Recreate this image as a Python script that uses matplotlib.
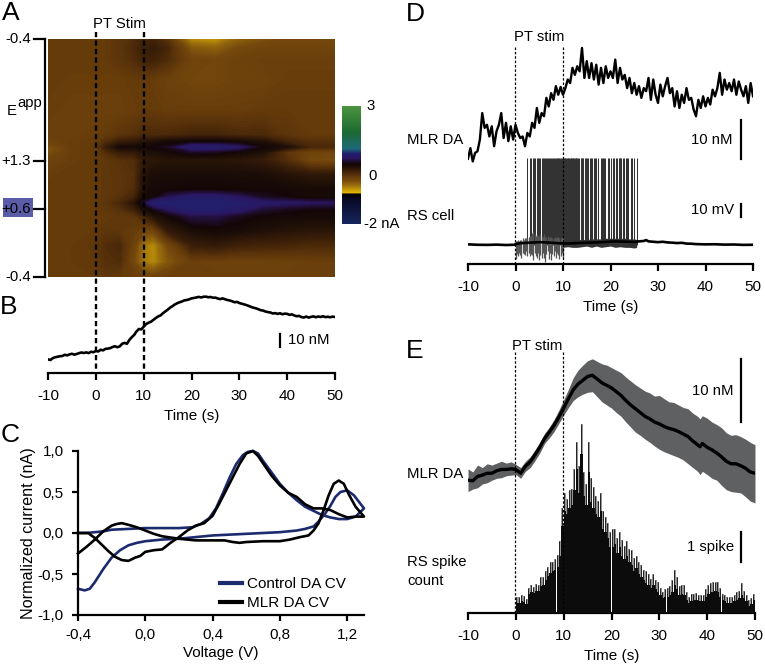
#!/usr/bin/env python3

import numpy as np
import matplotlib
matplotlib.use("Agg")
import matplotlib.pyplot as plt
from matplotlib.colors import LinearSegmentedColormap

plt.rcParams["font.family"] = ["Liberation Sans", "DejaVu Sans"]
plt.rcParams["font.size"] = 11
plt.rcParams["axes.unicode_minus"] = False

W, H = 765, 665
FS = 10.7

## Panel A: colour plot, nA. Rows are position in the scan (0 top, 100 bottom)
heatTimes = [-10, -5, 0, 2, 5, 8, 10, 12, 15, 20, 25, 30, 35, 40, 45, 50]
heatRows = [0, 3.8, 8.8, 17.2, 29.8, 40.3, 43.3, 45.4, 47.5, 50.8, 57.1, 63.4, 66.4,
            68.9, 71.4, 74.4, 80.3, 86.6, 93.7, 100]
heatValues = [
    [0, 0, 0, 0, .05, .12, .2, .2, .05, -.5, -.55, -.3, -.2, -.15, -.15, -.15],
    [0, 0, 0, 0, .05, .15, .25, .28, .18, -.25, -.3, -.15, -.1, -.1, -.1, -.1],
    [0, 0, 0, 0, .05, .12, .2, .22, .12, -.1, -.12, -.08, -.05, -.05, -.05, -.05],
    [0, -.03, -.03, -.03, -.03, 0, 0, -.03, -.07, -.12, -.12, -.08, -.08, -.03, -.03, -.03],
    [-.03, -.05, -.05, -.05, -.05, -.03, 0, 0, -.03, -.03, -.03, -.03, 0, 0, 0, 0],
    [-.05, -.05, -.03, 0, .05, .1, .15, .15, .15, .2, .2, .15, .15, .05, 0, 0],
    [-.1, -.03, 0, .12, .28, .3, .38, .42, .5, .55, .55, .5, .42, .2, .1, .1],
    [-.2, -.03, 0, .25, .48, .5, .52, .55, .6, .95, .95, .82, .52, .42, .15, .15],
    [-.2, -.03, 0, .12, .28, .3, .38, .42, .5, .62, .6, .5, .42, .05, -.1, -.12],
    [-.1, -.03, 0, .03, .08, .12, .3, .34, .36, .36, .36, .34, .28, .1, -.15, -.18],
    [-.03, 0, 0, .03, .05, .1, .38, .45, .46, .46, .46, .46, .45, .38, .33, .33],
    [0, 0, 0, .03, .05, .12, .42, .5, .52, .54, .54, .52, .52, .5, .48, .48],
    [0, 0, 0, .03, .08, .2, .48, .52, .74, .9, .9, .78, .62, .55, .48, .48],
    [0, 0, 0, .05, .15, .35, .65, .98, 1.0, 1.0, 1.0, .95, .85, .82, .78, .78],
    [0, 0, 0, .03, .1, .25, .45, .6, .8, 1.0, 1.0, .88, .68, .6, .55, .55],
    [0, 0, 0, 0, .03, .05, .22, .38, .5, .72, .72, .6, .52, .5, .5, .5],
    [0, 0, 0, .05, .03, -.02, -.1, -.1, .3, .45, .5, .47, .42, .38, .35, .35],
    [0, 0, .03, .12, .15, -.1, -.4, -.5, -.15, .25, .3, .22, .2, .18, .15, .15],
    [0, 0, .02, .1, .12, -.15, -.4, -.48, -.25, -.05, -.08, -.08, -.08, -.08, -.05, -.05],
    [0, 0, 0, .03, 0, -.03, -.08, -.08, -.05, -.05, -.05, -.05, -.05, -.05, -.05, -.05],
]

## Panel B: DA trace, nM, one value per half second from -10 s
traceB = [10.9, 10.4, 11.9, 12.6, 13.0, 13.4, 13.6, 14.6, 14.1, 14.9, 15.4, 14.7, 15.2, 15.9, 16.4, 16.0, 16.5,
          15.9, 17.0, 16.6, 17.6, 17.2, 18.6, 18.1, 19.3, 19.5, 19.9, 20.8, 21.4, 20.6, 21.3, 23.4, 24.1, 23.4, 26.4,
          28.6, 30.4, 33.2, 35.2, 34.9, 37.0, 39.1, 40.2, 41.0, 42.4, 43.9, 45.2, 46.0, 47.7, 49.2, 50.6, 52.2,
          53.4, 54.8, 55.8, 56.6, 57.2, 58.1, 58.4, 58.9, 59.7, 60.0, 60.4, 60.9, 60.4, 61.0, 61.1, 60.6, 60.8, 60.2,
          60.3, 59.6, 59.1, 59.7, 59.0, 58.4, 58.0, 57.4, 56.6, 56.9, 56.0, 55.4, 54.9, 54.3, 53.6, 52.8, 52.2, 51.7,
          51.0, 50.2, 49.9, 49.1, 48.7, 48.4, 47.6, 47.9, 47.3, 47.8, 47.0, 47.5, 47.3, 46.5, 46.9, 46.0, 45.4, 45.7,
          44.7, 44.4, 45.2, 44.3, 44.9, 45.3, 44.6, 45.2, 44.8, 45.4, 44.7, 45.0, 44.6, 45.1, 44.8]

## Panel C: cyclic voltammograms
controlV = [-.4, -.35, -.3, -.25, -.2, -.1, 0, .1, .2, .28, .33, .38, .42, .46, .5, .54, .58, .61,
            .64, .67, .7, .75, .8, .85, .9, .95, 1.0, 1.05, 1.1, 1.15, 1.2, 1.25, 1.3,
            1.27, 1.24, 1.2, 1.16, 1.13, 1.1, 1.07, 1.03, 1.0, .95, .9, .8, .6, .4, .2, .1, 0,
            -.05, -.1, -.15, -.2, -.25, -.3, -.33, -.36, -.4]
controlI = [0, 0, .01, .02, .04, .05, .06, .06, .06, .07, .11, .18, .3, .48, .67, .84, .95, .99,
            1.0, .97, .88, .74, .6, .49, .4, .32, .27, .22, .19, .17, .17, .2, .3,
            .38, .46, .52, .5, .44, .33, .24, .14, .08, .05, .03, .01, -.01, -.03, -.07, -.08,
            -.1, -.12, -.15, -.21, -.3, -.44, -.6, -.68, -.7, -.68]
mlrV = [-.4, -.35, -.3, -.25, -.2, -.17, -.14, -.1, -.05, 0, .05, .1, .2, .3, .4, .47, .52, .56, .6,
        .7, .8, .86, .92, .97, 1.0, 1.03, 1.06, 1.09, 1.12, 1.15, 1.18, 1.21, 1.25, 1.3,
        1.25, 1.2, 1.15, 1.1, 1.05, 1.0, .95, .9, .85, .8, .75, .7, .67, .64, .6, .56, .52, .48, .44,
        .4, .35, .3, .25, .2, .15, .1, .05, 0, -.03, -.06, -.1, -.14, -.18, -.22, -.26, -.3, -.34, -.4]
mlrI = [-.25, -.17, -.08, .02, .09, .11, .12, .1, .07, .03, -.01, -.04, -.07, -.09, -.09, -.09,
        -.11, -.12, -.11, -.1, -.1, -.08, -.05, -.03, .03, .12, .28, .46, .6, .64, .6, .47, .32, .2,
        .2, .19, .23, .28, .3, .3, .35, .44, .49, .58, .7, .85, .94, 1.0, .97, .84, .68, .52, .36,
        .21, .12, .09, .03, -.05, -.12, -.2, -.21, -.23, -.28, -.3, -.34, -.33, -.29, -.22, -.14, -.06, 0, 0]

## Panel D: DA trace, nM, one value per half second from -10 s
traceD = [27, 29.7, 26.3, 28.5, 28.9, 31.9, 38.7, 34.9, 35.7, 32.7, 35.3, 30.2, 34, 35.7, 38.7,
          32.3, 36.2, 31.5, 35.3, 31.9, 35.7, 33.6, 32.3, 32.7, 30.2, 33.6, 32.7, 36.2, 34.9,
          40, 36.2, 38.7, 37.9, 42.6, 40.4, 43.8, 42.1, 45.6, 43.4, 45.4, 43.4, 45.1, 47.3,
          46.4, 50.3, 48.5, 50.7, 49.4, 55.4, 47.7, 52, 47.7, 51.5, 47.3, 51.1, 46, 50.3, 46.4,
          50.7, 47.7, 49.4, 47.7, 52.4, 46.4, 50.3, 47.3, 48.5, 45.1, 47.7, 43.8, 46.4, 43.4,
          45.6, 42.6, 45.1, 44.3, 47.7, 42.1, 47.3, 43.4, 41.3, 46, 43, 45.6, 47.7, 43.8, 45.1,
          40.4, 44.3, 40, 43.4, 41.3, 45.1, 42.1, 42.6, 39.6, 37.9, 42.1, 40, 43, 40.4, 42.6,
          40.9, 44.7, 43, 45.1, 49, 43.4, 47.3, 44.7, 46.4, 44.3, 47.3, 43.4, 46.8, 44.7, 43,
          45.6, 41.3, 46.4, 43]

## Panel D: RS cell, mV relative to rest
spikeTimes = [2.5, 3.0, 3.2, 3.6, 3.9, 4.1, 4.5, 4.8, 5.0, 5.2, 5.5, 5.7, 6.0, 6.2, 6.4, 6.6, 6.9, 7.1, 7.3, 7.5, 7.7,
              7.9, 8.1, 8.3, 8.5, 8.7, 8.9, 9.0, 9.2, 9.4, 9.6, 9.8, 9.9, 10.1, 10.2, 10.4, 10.5, 10.7, 10.8, 11.0,
              11.1, 11.3, 11.4, 11.6, 11.7, 11.9, 12.0, 12.2, 12.3, 12.5, 12.7, 12.8, 13.0, 13.2, 13.4, 13.7, 13.9,
              14.1, 14.3, 14.6, 14.8, 15.1, 15.3, 15.6, 15.9, 16.1, 16.5, 16.8, 17.0, 17.4, 17.9, 18.2, 18.4, 18.7,
              18.9, 19.4, 19.7, 20.2, 20.5, 20.8, 21.2, 21.4, 21.7, 21.9, 22.1, 22.3, 22.6, 22.9, 23.2, 23.4, 23.7,
              24.3, 24.5, 24.9, 25.5]
spikePeak = 67
noiseTimes = [0, .25, .5, .75, 1, 1.25, 1.5, 1.75, 2, 2.25, 2.5, 2.75, 3, 3.25, 3.5, 3.75, 4, 4.25, 4.5, 4.75, 5, 5.25,
              5.5, 5.75, 6, 6.25, 6.5, 6.75, 7, 7.25, 7.5, 7.75, 8, 8.25, 8.5, 8.75, 9, 9.25, 9.5, 9.75, 10]
noiseHigh = [3, 3, 4, 3, 4, 4, 5, 4, 5, 5, 5, 6, 7, 7, 9, 10, 8, 7, 8, 7, 7, 8, 7, 6, 8, 6, 6, 7, 5, 6, 6, 5, 5, 6, 5, 6, 6, 5, 5, 6, 5]
noiseLow = [-11, -7, -9, -6, -8, -10, -6, -7, -8, -5, -9, -6, -9, -7, -8, -12, -6, -9, -10, -6, -12, -8, -10, -6, -10, -13,
            -7, -5, -11, -6, -12, -7, -9, -5, -10, -6, -8, -11, -9, -6, -10]
coreTimes = [-10, -8, -6, -4, -2, -.2, 0, 1, 3, 5, 7, 9, 11, 13, 15, 17, 19, 21, 23, 25, 26, 27, 27.5, 28, 29, 30, 31, 32,
             33, 34, 35, 36, 37, 38, 40, 42, 44, 46, 48, 50]
coreValues = [.3, 0, -.1, .1, -.2, 0, .5, 1.2, 1.6, 2, 1.7, 1.2, 1, 1.3, 1.6, 1.8, 2.2, 2.6, 2.4, 2.2, 2.6, 2.9, 3.6, 2.6, 2.3,
              2.0, 2.3, 1.8, 1.6, 1.3, 1.5, .9, .8, .5, .3, .4, .1, .2, -.1, 0]
burstTimes = [10, 11, 12, 13, 14, 15, 16, 17, 18, 19, 20, 21, 22, 23, 24, 25, 25.5]
burstHigh = [4, 4, 4, 4, 4, 4, 4.5, 4.5, 4.5, 5, 5, 5, 5, 5, 4.5, 4.5, 4]
burstLow = [-2, -1.5, -2, -2, -1.5, -1, -2, -1, -2, -1.5, -1, -2, -1.5, -2, -2, -2.5, -2]

## Panel E: mean DA and band, nM
meanTimes = [-10, -9, -8, -7, -6, -5, -4, -3, -2, -1, 0, 1, 2, 3, 4, 5, 6, 7, 8, 9, 10, 11, 12, 13, 14, 15, 16, 17, 18,
             19, 20, 21, 22, 23, 24, 25, 26, 27, 28, 29, 30, 31, 32, 33, 34, 35, 36, 37, 38, 38.5, 39, 40, 41, 42,
             43, 44, 45, 46, 47, 48, 49, 50]
meanDA = [21, 20.9, 21.6, 21.8, 22.1, 22.1, 22.5, 22.7, 22.7, 22.8, 22.7, 22.1, 23.2, 23.9, 25, 26.2, 27.6, 28.6, 29.7,
          31, 32.4, 33.9, 35.3, 36.2, 36.8, 37.4, 37.6, 37, 36.4, 36, 35.6, 35, 34.4, 33.6, 32.9, 32.3, 31.7, 31.1,
          30.7, 30.2, 29.9, 29.5, 29.2, 29.0, 28.7, 28.3, 27.9, 27.2, 26.6, 26.3, 26.8, 26.2, 25.8, 25.3, 24.7, 24.0,
          23.6, 23.6, 23.3, 22.9, 22.3, 22.1]
bandHigh = [22.8, 22.3, 23.4, 23.0, 23.6, 23.4, 23.7, 24.0, 23.7, 23.9, 23.5, 23, 24, 24.7, 25.8, 27, 28.4, 29.4, 30.6,
            32.1, 33.7, 35.4, 37.2, 38.4, 39.2, 39.9, 40.2, 39.8, 39.4, 39.2, 38.8, 38.4, 38.0, 37.3, 36.7, 36.1, 35.6, 35.1,
            34.8, 34.3, 34.4, 33.9, 33.4, 33.3, 32.9, 32.5, 32.3, 31.6, 31.1, 30.7, 31.2, 30.8, 30.2, 29.8, 29.3, 28.5,
            28.1, 28.2, 27.9, 27.5, 27.0, 26.6]
bandLow = [19.2, 19.6, 19.8, 20.4, 20.6, 21, 21.3, 21.4, 21.7, 21.8, 21.9, 21.3, 22.4, 23, 24.1, 25.3, 26.8, 27.7, 28.7,
           30, 31.3, 32.5, 33.6, 34.2, 34.6, 34.9, 35, 34.2, 33.4, 32.9, 32.4, 31.7, 31.1, 30.2, 29.4, 28.6, 28.1, 27.5,
           27.0, 26.4, 25.9, 25.5, 25.2, 24.9, 24.6, 24.2, 23.6, 23.0, 22.4, 21.9, 22.4, 21.9, 21.3, 21, 20.2, 19.5, 19.2,
           19.1, 19.0, 18.4, 17.7, 17.4]

## Panel E: spike count, 0.5 s bins from 0 s
spikeCount = [.33, .35, .4, .38, .3, .65, .7, .68, .72, .75, .9, .95, 1.1, 1.25, 1.35, 1.4, 1.45, 1.55, 1.9, 2.9,
              3.4, 3.3, 3.5, 3.6, 4.1, 4.8, 4.0, 5.3, 3.9, 3.6, 4.7, 3.7, 3.5, 3.3, 3.2, 3.4, 2.8, 2.7, 2.5, 2.2,
              2.2, 2.3, 2.0, 2.2, 1.9, 1.8, 1.9, 1.7, 1.6, 1.4, 1.5, 1.3, 1.2, 1.1, 1.0, .95, .85, .95, .8, .7,
              .6, .5, .55, .55, .6, .7, .95, .8, .6, .65, .6, .45, .35, .4, .45, .42, .4, .4, .4, .55,
              .65, .7, .7, .75, .7, .55, .45, .4, .35, .35, .35, .4, .45, .5, .6, .5, .4, .25, .3, .45]
spikeErr = [.2, .2, .2, .2, .18, .2, .25, .2, .25, .2, .3, .25, .3, .3, .35, .3, .35, .4, .5, .6,
            .6, .5, .6, .55, .7, .9, .9, 1.0, .8, .7, 1.0, .8, .7, .6, .55, .6, .6, .5, .5, .5,
            .6, .5, .5, .5, .55, .45, .5, .45, .5, .45, .4, .4, .4, .35, .4, .35, .3, .35, .3, .35,
            .25, .2, .25, .3, .3, .4, .5, .4, .3, .3, .35, .25, .2, .25, .2, .25, .2, .2, .2, .25,
            .3, .3, .35, .3, .35, .3, .2, .2, .2, .2, .2, .2, .25, .25, .4, .25, .2, .2, .2, .2]


def axes_px(x0, x1, ytop, ybot):
    return fig.add_axes([x0/W, 1-ybot/H, (x1-x0)/W, (ybot-ytop)/H])


def time_axis(ax):
    ax.set_xlim(-10, 50)
    ax.set_xticks([-10, 0, 10, 20, 30, 40, 50])
    for side in ["top", "right", "left"]:
        ax.spines[side].set_visible(False)
    ax.spines["bottom"].set_linewidth(1.6)
    ax.tick_params(axis="x", width=1.6, length=4.7, labelsize=11, pad=7)
    ax.set_yticks([])
    ax.patch.set_alpha(0)


fig = plt.figure(figsize=(W/100, H/100), dpi=100, facecolor="white")

# full figure overlay in pixel coordinates, for labels and scale bars
over = fig.add_axes([0, 0, 1, 1], zorder=10)
over.set_xlim(0, W)
over.set_ylim(H, 0)
over.axis("off")

## Panel A
colors = [(0, "#16275f"), (.2, "#0a0a28"), (.255, "#050505"), (.26, "#e8bc00"), (.33, "#966a0c"),
          (.37, "#74480c"), (.4, "#643a0a"), (.45, "#3a1e08"), (.49, "#1a0c06"), (.51, "#140608"), (.56, "#2a1660"),
          (.6, "#221f6c"), (.64, "#1d6a78"), (.78, "#1c6a30"), (1, "#4c9440")]
cmap = LinearSegmentedColormap.from_list("fscv", colors, N=512)
axA = axes_px(48, 335, 39, 277)
axA.contourf(heatTimes, heatRows, np.array(heatValues), levels=np.linspace(-2, 3, 256),
             cmap=cmap, vmin=-2, vmax=3)
axA.set_xlim(-10, 50)
axA.set_ylim(100, 0)
axA.axis("off")

axBar = axes_px(342, 361, 106, 224)
axBar.imshow(np.linspace(3, -2, 256).reshape(-1, 1), aspect="auto", cmap=cmap, vmin=-2, vmax=3)
axBar.axis("off")
over.text(366, 106, "3", va="center", fontsize=FS)
over.text(368, 176, "0", va="center", fontsize=FS)
over.text(364, 224, "-2 nA", va="center", fontsize=FS)

# potential bracket
over.plot([45, 45], [39, 277], c="black", lw=1.6)
for y, lab in zip([39, 161, 209, 277], ["-0.4", "+1.3", "+0.6", "-0.4"]):
    over.plot([34, 45], [y, y], c="black", lw=1.6)
    over.text(31, y, lab, ha="right", va="center", fontsize=FS)
over.fill_between([3, 33], 198, 217, color="#5b5ca8", lw=0, zorder=0)
over.text(7, 111, "E", va="center", fontsize=FS)
over.text(17, 103, "app", va="center", fontsize=FS)

for x in [96, 144]:
    over.plot([x, x], [32, 373], c="black", lw=1.7, ls=(0, (2.2, 1.4)))
over.text(119, 24, "PT Stim", ha="center", va="center", fontsize=FS)

## Panel B
axB = axes_px(48, 335, 290, 373)
axB.plot(np.arange(-10, 50.5, .5), traceB, c="black", lw=1.9)
axB.set_ylim(0, 66.4)
time_axis(axB)
axB.set_xlabel("Time (s)", fontsize=11, labelpad=4)
over.plot([280, 280], [334, 347], c="black", lw=1.6)
over.text(288, 340, "10 nM", va="center", fontsize=FS)

## Panel C
axC = axes_px(78, 364, 451, 615)
axC.plot(controlV, controlI, c="#1c2a6e", lw=1.9, label="Control DA CV", solid_joinstyle="round", clip_on=False)
axC.plot(mlrV, mlrI, c="black", lw=1.9, label="MLR DA CV", solid_joinstyle="round", clip_on=False)
axC.set_xlim(-.4, 1.3)
axC.set_ylim(-1, 1)
axC.set_xticks([-.4, 0, .4, .8, 1.2])
axC.set_xticklabels(["-0,4", "0,0", "0,4", "0,8", "1,2"])
axC.set_yticks([-1, -.5, 0, .5, 1])
axC.set_yticklabels(["-1,0", "-0,5", "0,0", "0,5", "1,0"])
for side in ["top", "right"]:
    axC.spines[side].set_visible(False)
for side in ["left", "bottom"]:
    axC.spines[side].set_linewidth(1.6)
axC.tick_params(width=1.6, length=4.2, labelsize=11)
axC.tick_params(axis="x", pad=5)
axC.tick_params(axis="y", pad=6)
axC.set_xlabel("Voltage (V)", fontsize=11, labelpad=3)
axC.set_ylabel("Normalized current (nA)", fontsize=11.6, labelpad=1)
axC.patch.set_alpha(0)
leg = axC.legend(loc="lower right", bbox_to_anchor=(.937, .03), frameon=False, fontsize=11, handlelength=1.4,
                 handletextpad=.35, labelspacing=.3, borderpad=0, borderaxespad=0)
for line in leg.get_lines():
    line.set_linewidth(3)

## Panel D
axD = axes_px(468, 753, 30, 264)
axD.plot(np.arange(-10, 50.5, .5), traceD, c="black", lw=1.7)
axD.set_ylim(0, 60)
time_axis(axD)
axD.set_xlabel("Time (s)", fontsize=11, labelpad=4)
axD2 = axD.twinx()
axD2.set_ylim(-14.8, 165.2)
axD2.axis("off")
axD2.vlines(spikeTimes, 0, spikePeak, color="#333333", lw=.75)
axD2.vlines(noiseTimes, noiseLow, noiseHigh, color="#555555", lw=.9)
axD2.fill_between(burstTimes, burstLow, burstHigh, color="#333333", lw=0)
axD2.plot(coreTimes, coreValues, c="black", lw=1.9)
over.text(407, 140, "MLR DA", va="center", fontsize=FS)
over.text(407, 216, "RS cell", va="center", fontsize=FS)
over.text(733, 140, "10 nM", ha="right", va="center", fontsize=FS)
over.plot([741, 741], [120, 159], c="black", lw=1.6)
over.text(734, 210, "10 mV", ha="right", va="center", fontsize=FS)
over.plot([741, 741], [204, 217], c="black", lw=1.6)
for x in [515, 563]:
    over.plot([x, x], [47, 264], c="black", lw=.9, ls=(0, (2, 1.5)))
over.text(539, 37, "PT stim", ha="center", va="center", fontsize=FS)

## Panel E
axE = axes_px(468, 755, 355, 613)
axE.fill_between(meanTimes, bandLow, bandHigh, color="#5f6062", lw=0)
axE.plot(meanTimes, meanDA, c="black", lw=2.4)
axE.set_ylim(0, 40.8)
time_axis(axE)
axE.set_xlabel("Time (s)", fontsize=11, labelpad=4)
axE2 = axE.twinx()
axE2.set_ylim(0, 8.6)
axE2.axis("off")
binStart = np.arange(0, 50, .5)
errTop = np.array(spikeCount)+np.array(spikeErr)
axE2.vlines(binStart+.25, spikeCount, errTop, color="#8a8a8a", lw=1.3)
axE2.vlines(binStart+.12, spikeCount, errTop, color="#111111", lw=.6)
axE2.bar(binStart+.25, spikeCount, width=.49, color="#0c0c0c")
over.text(407, 474, "MLR DA", va="center", fontsize=FS)
over.text(407, 562, "RS spike", va="center", fontsize=FS)
over.text(407, 581, "count", va="center", fontsize=FS)
over.text(734, 391, "10 nM", ha="right", va="center", fontsize=FS)
over.plot([741, 741], [359, 422], c="black", lw=1.6)
over.text(734, 547, "1 spike", ha="right", va="center", fontsize=FS)
over.plot([741, 741], [532, 562], c="black", lw=1.6)
for x in [515, 563]:
    over.plot([x, x], [352, 613], c="black", lw=.9, ls=(0, (2, 1.5)))
over.text(537, 346, "PT stim", ha="center", va="center", fontsize=FS)

## Panel letters
for x, y, lab in [(2, 13, "A"), (0, 307, "B"), (1, 435, "C"), (406, 14, "D"), (406, 351, "E")]:
    over.text(x, y, lab, va="center", fontsize=19)

plt.savefig("out.png", dpi=100)
